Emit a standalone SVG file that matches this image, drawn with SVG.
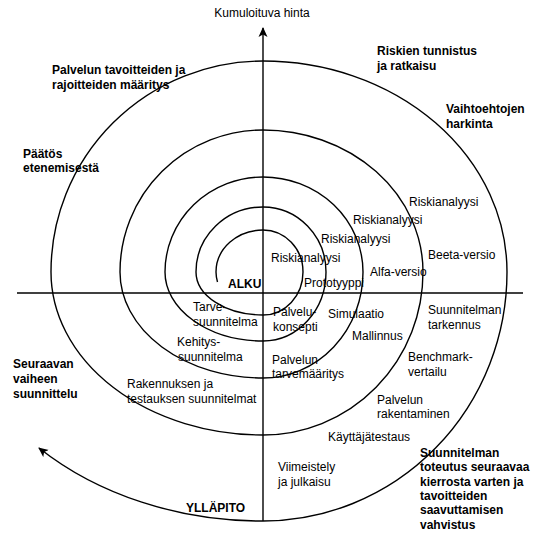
<svg xmlns="http://www.w3.org/2000/svg" width="535" height="535" viewBox="0 0 535 535">
<style>
.ln{fill:none;stroke:#000;stroke-width:1.4}
text{font-family:"Liberation Sans",Arial,sans-serif;font-size:12px;fill:#000}
.b{font-weight:bold}
</style>
<defs>
<marker id="ah" viewBox="0 0 10 10" refX="9" refY="5" markerWidth="10" markerHeight="10" markerUnits="userSpaceOnUse" orient="auto">
<path d="M0,0.5 L10,5 L0,9.5 L2.5,5 Z" fill="#000"/>
</marker>
</defs>
<rect width="535" height="535" fill="#fff"/>
<g id="axes">
<line class="ln" x1="17" y1="293" x2="523" y2="293"/>
<line class="ln" x1="263" y1="521" x2="263" y2="28" marker-end="url(#ah)"/>
</g>
<g id="spiral">
<path class="ln" marker-end="url(#ah)" d="M217.5,282 A47,42 0 0 1 216,272 A47,42 0 0 1 263,230 A40,42 0 0 1 303,272 A40,43 0 0 1 263,315 A67,43 0 0 1 196,272 A67,65 0 0 1 263,207 A63,65 0 0 1 326,272 A63,69 0 0 1 263,341 A98,69 0 0 1 165,272 A98,95 0 0 1 263,177 A100,95 0 0 1 363,272 A100,106 0 0 1 263,378 A143,106 0 0 1 120,272 A143,142 0 0 1 263,130 A160,142 0 0 1 423,272 A160,163 0 0 1 263,435 A212,163 0 0 1 51,272 A212,211 0 0 1 263,61 A244,211 0 0 1 507,272 A244,249 0 0 1 263,521 A315,249 0 0 1 39,448"/>
</g>
<g id="labels">
<text x="262" y="17" text-anchor="middle">Kumuloituva hinta</text>
<text class="b" x="52" y="74">Palvelun tavoitteiden ja</text>
<text class="b" x="52" y="89">rajoitteiden määritys</text>
<text class="b" x="23" y="158">Päätös</text>
<text class="b" x="23" y="172">etenemisestä</text>
<text class="b" x="377" y="55">Riskien tunnistus</text>
<text class="b" x="377" y="70">ja ratkaisu</text>
<text class="b" x="446" y="113">Vaihtoehtojen</text>
<text class="b" x="446" y="128">harkinta</text>
<text class="b" x="13" y="368">Seuraavan</text>
<text class="b" x="13" y="383">vaiheen</text>
<text class="b" x="13" y="398">suunnittelu</text>
<text class="b" x="186" y="512">YLLÄPITO</text>
<text class="b" x="228" y="287.5">ALKU</text>
<text class="b" x="420" y="457">Suunnitelman</text>
<text class="b" x="420" y="471.3">toteutus seuraavaa</text>
<text class="b" x="420" y="485.6">kierrosta varten ja</text>
<text class="b" x="420" y="499.9">tavoitteiden</text>
<text class="b" x="420" y="514.2">saavuttamisen</text>
<text class="b" x="420" y="528.5">vahvistus</text>
<text x="409" y="206">Riskianalyysi</text>
<text x="353" y="224">Riskianalyysi</text>
<text x="321" y="243">Riskianalyysi</text>
<text x="271" y="261.5">Riskianalyysi</text>
<text x="428" y="259">Beeta-versio</text>
<text x="370" y="276">Alfa-versio</text>
<text x="304" y="287">Prototyyppi</text>
<text x="273" y="316">Palvelu-</text>
<text x="273" y="331">konsepti</text>
<text x="328" y="318">Simulaatio</text>
<text x="352" y="340">Mallinnus</text>
<text x="428" y="314">Suunnitelman</text>
<text x="428" y="329">tarkennus</text>
<text x="408" y="361">Benchmark-</text>
<text x="408" y="376">vertailu</text>
<text x="272" y="364">Palvelun</text>
<text x="272" y="378">tarvemääritys</text>
<text x="377" y="404">Palvelun</text>
<text x="377" y="418">rakentaminen</text>
<text x="328" y="441">Käyttäjätestaus</text>
<text x="278" y="471">Viimeistely</text>
<text x="278" y="486">ja julkaisu</text>
<text x="193" y="311">Tarve-</text>
<text x="193" y="326">suunnitelma</text>
<text x="177" y="346">Kehitys-</text>
<text x="178" y="361">suunnitelma</text>
<text x="127" y="388">Rakennuksen ja</text>
<text x="127" y="403">testauksen suunnitelmat</text>
</g>
</svg>
